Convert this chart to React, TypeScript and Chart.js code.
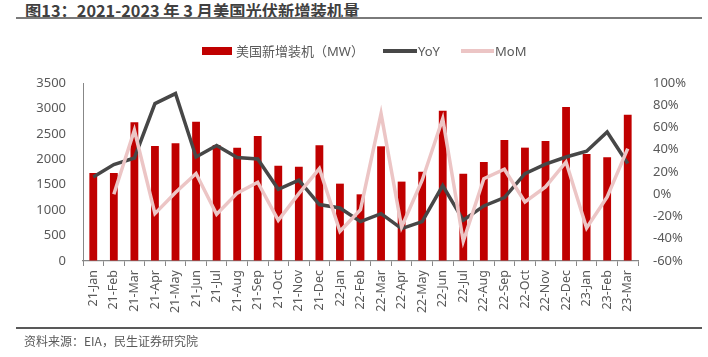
import React, { useEffect, useRef } from "react";
import { Chart, registerables } from "chart.js";

Chart.register(...registerables);

const categories = [
  "21-Jan", "21-Feb", "21-Mar", "21-Apr", "21-May", "21-Jun", "21-Jul", "21-Aug", "21-Sep",
  "21-Oct", "21-Nov", "21-Dec", "22-Jan", "22-Feb", "22-Mar", "22-Apr", "22-May", "22-Jun",
  "22-Jul", "22-Aug", "22-Sep", "22-Oct", "22-Nov", "22-Dec", "23-Jan", "23-Feb", "23-Mar",
];

const installsMW = [
  1730, 1730, 2727, 2261, 2314, 2740, 2280, 2229, 2458,
  1875, 1855, 2275, 1521, 1311, 2255, 1561, 1757, 2956,
  1718, 1947, 2379, 2229, 2359, 3028, 2104, 2039, 2878,
];

const yoyPct = [
  15.6, 26.7, 32.6, 81.5, 90.5, 33.5, 43.8, 33, 31.7,
  4.5, 12.6, -9.3, -12.3, -24.6, -17.4, -30.9, -24.6, 7.8,
  -23.4, -10.5, -3, 18.6, 27, 33.5, 38.7, 56, 27.6,
];

const momPct: (number | null)[] = [
  null, 0, 57.5, -17.4, 1.5, 18.6, -18, 1, 10.8,
  -23.4, 0.6, 23.1, -33.3, -13.8, 72.5, -29.4, 12.6, 68,
  -42.3, 14, 22.5, -6.9, 6.6, 29, -30.3, -2.4, 41,
];

const leftMin = 0;
const leftMax = 3500;
const leftStep = 500;
const rightMin = -60;
const rightMax = 100;
const rightStep = 20;

const BAR_COLOR = "#c00000";
const YOY_COLOR = "#474747";
const MOM_COLOR = "#ecc5c5";
const TEXT_COLOR = "#595959";
const AXIS_COLOR = "#878787";
const FONT = '"Noto Sans", "Noto Sans CJK SC", sans-serif';

export default function App() {
  const canvasRef = useRef<HTMLCanvasElement | null>(null);

  useEffect(() => {
    const canvas = canvasRef.current;
    if (!canvas) return;
    const chart = new Chart(canvas, {
      type: "bar",
      data: {
        labels: categories,
        datasets: [
          {
            type: "bar",
            label: "美国新增装机（MW）",
            data: installsMW,
            backgroundColor: BAR_COLOR,
            yAxisID: "y",
            barPercentage: 0.38,
            categoryPercentage: 1,
            order: 3,
          },
          {
            type: "line",
            label: "YoY",
            data: yoyPct,
            borderColor: YOY_COLOR,
            backgroundColor: YOY_COLOR,
            borderWidth: 3.5,
            pointRadius: 0,
            tension: 0,
            yAxisID: "y1",
            order: 2,
          },
          {
            type: "line",
            label: "MoM",
            data: momPct,
            borderColor: MOM_COLOR,
            backgroundColor: MOM_COLOR,
            borderWidth: 3.5,
            pointRadius: 0,
            tension: 0,
            spanGaps: false,
            yAxisID: "y1",
            order: 1,
          },
        ],
      },
      options: {
        responsive: false,
        animation: false,
        maintainAspectRatio: false,
        layout: { padding: { top: 83, left: 0, right: 0, bottom: 0 } },
        plugins: {
          legend: { display: false },
          title: { display: false },
          tooltip: { enabled: false },
        },
        scales: {
          x: {
            type: "category",
            grid: {
              display: true,
              drawOnChartArea: false,
              drawTicks: true,
              tickLength: 5,
              color: AXIS_COLOR,
              offset: true,
            },
            border: { display: true, color: AXIS_COLOR, width: 1.3 },
            ticks: {
              autoSkip: false,
              minRotation: 90,
              maxRotation: 90,
              padding: 4,
              color: TEXT_COLOR,
              font: { family: FONT, size: 12.5 },
            },
            afterFit: (s: any) => {
              s.height = 96;
            },
          },
          y: {
            type: "linear",
            position: "left",
            min: leftMin,
            max: leftMax,
            grid: { display: true, drawOnChartArea: false, drawTicks: false },
            border: { display: true, color: AXIS_COLOR, width: 1 },
            ticks: {
              stepSize: leftStep,
              padding: 17,
              color: TEXT_COLOR,
              font: { family: FONT, size: 13 },
              callback: (v: any) => String(v),
            },
            afterFit: (s: any) => {
              s.width = 83;
            },
          },
          y1: {
            type: "linear",
            position: "right",
            min: rightMin,
            max: rightMax,
            grid: { display: false, drawOnChartArea: false, drawTicks: false },
            border: { display: false },
            ticks: {
              stepSize: rightStep,
              padding: 15,
              color: TEXT_COLOR,
              font: { family: FONT, size: 13 },
              callback: (v: any) => `${v}%`,
            },
            afterFit: (s: any) => {
              s.width = 70;
            },
          },
        },
      },
    });
    return () => chart.destroy();
  }, []);

  const legendText: React.CSSProperties = {
    position: "absolute",
    top: 42,
    fontFamily: FONT,
    fontSize: 13,
    color: TEXT_COLOR,
    lineHeight: "18px",
    whiteSpace: "nowrap",
  };

  return (
    <div
      style={{
        position: "absolute",
        left: 0,
        top: 0,
        width: 708,
        height: 357,
        background: "#fff",
        overflow: "hidden",
      }}
    >
      <div
        style={{
          position: "absolute",
          left: 25,
          top: 0,
          fontFamily: '"Noto Sans CJK SC", "Noto Sans", sans-serif',
          fontWeight: 700,
          fontSize: 16.3,
          lineHeight: "20px",
          color: "#404040",
          whiteSpace: "nowrap",
        }}
      >
        图13：2021-2023 年 3 月美国光伏新增装机量
      </div>
      <div
        style={{
          position: "absolute",
          left: 16,
          top: 17,
          width: 686,
          height: 2,
          background: "#7a7a7a",
        }}
      />
      <canvas
        ref={canvasRef}
        width={708}
        height={357}
        style={{ position: "absolute", left: 0, top: 0, width: 708, height: 357 }}
      />
      <div style={{ position: "absolute", left: 202, top: 47, width: 30, height: 8, background: BAR_COLOR }} />
      <div style={{ ...legendText, left: 236 }}>美国新增装机（MW）</div>
      <div style={{ position: "absolute", left: 383, top: 49, width: 34, height: 4, background: YOY_COLOR }} />
      <div style={{ ...legendText, left: 418 }}>YoY</div>
      <div style={{ position: "absolute", left: 461, top: 49, width: 33, height: 4, background: MOM_COLOR }} />
      <div style={{ ...legendText, left: 495 }}>MoM</div>
      <div
        style={{
          position: "absolute",
          left: 16,
          top: 327,
          width: 686,
          height: 1.5,
          background: "#595959",
        }}
      />
      <div
        style={{
          position: "absolute",
          left: 24,
          top: 332,
          fontFamily: '"Noto Sans CJK SC", "Noto Sans", sans-serif',
          fontSize: 12,
          lineHeight: "17px",
          color: TEXT_COLOR,
          whiteSpace: "nowrap",
        }}
      >
        资料来源：EIA，民生证券研究院
      </div>
    </div>
  );
}
